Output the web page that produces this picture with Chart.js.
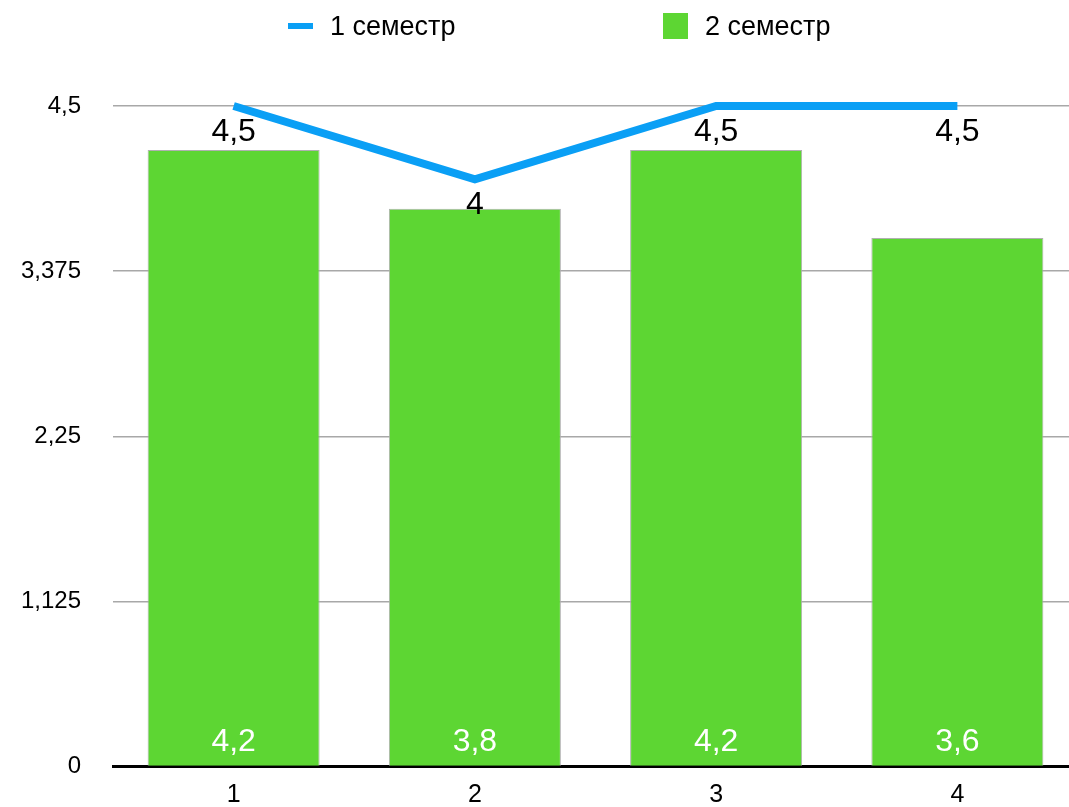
<!DOCTYPE html>
<html>
<head>
<meta charset="utf-8">
<script src="https://cdn.jsdelivr.net/npm/chart.js@4"></script>
<style>
  html, body { margin: 0; padding: 0; background: #fff; overflow: hidden; }
  body { width: 1069px; height: 807px; position: relative; font-family: "Liberation Sans", Arial, sans-serif; }
  #wrap { position: absolute; left: 0; top: 0; width: 1078px; height: 813px; }
  .legend-item { position: absolute; font-size: 27px; color: #000; line-height: 30px; }
  .swatch { position: absolute; }
</style>
</head>
<body>
<div id="wrap"><canvas id="chart" width="1078" height="813"></canvas></div>

<div class="swatch" style="left:288px; top:23px; width:25px; height:6px; background:#0a9ff5;"></div>
<div class="legend-item" style="left:330px; top:11px;">1 семестр</div>
<div class="swatch" style="left:663px; top:13px; width:25px; height:26px; background:#5dd633;"></div>
<div class="legend-item" style="left:705px; top:11px;">2 семестр</div>

<script>
const categories = ["1", "2", "3", "4"];
const semester1 = [4.5, 4, 4.5, 4.5];
const semester2 = [4.2, 3.8, 4.2, 3.6];
const yTicks = [0, 1.125, 2.25, 3.375, 4.5];

const FONT = "'Liberation Sans', Arial, sans-serif";
const fmt = (v) => String(v).replace(".", ",");

// подписи значений: у линии под точкой, у столбцов внизу внутри
const valueLabels = {
    id: "valueLabels",
    afterDatasetsDraw(chart){
        const ctx = chart.ctx;
        ctx.save();
        ctx.font = "32px " + FONT;
        ctx.textAlign = "center";
        ctx.textBaseline = "middle";
        chart.data.datasets.forEach((ds, i) => {
            const meta = chart.getDatasetMeta(i);
            meta.data.forEach((el, j) => {
                const text = fmt(ds.data[j]);
                if(ds.type === "line"){
                    ctx.fillStyle = "#000";
                    ctx.fillText(text, el.x, el.y + 26);
                } else {
                    ctx.fillStyle = "#fff";
                    ctx.fillText(text, el.x, el.base - 24);
                }
            });
        });
        ctx.restore();
    }
};

new Chart(document.getElementById("chart"), {
    data: {
        labels: categories,
        datasets: [{
            type: "line",
            label: "1 семестр",
            data: semester1,
            borderColor: "#0a9ff5",
            borderWidth: 8,
            borderCapStyle: "butt",
            borderJoinStyle: "miter",
            pointRadius: 0,
            tension: 0,
            clip: false,
            order: 0
        }, {
            type: "bar",
            label: "2 семестр",
            data: semester2,
            backgroundColor: "#5dd633",
            borderColor: "#b0b0b0",
            borderWidth: 1,
            categoryPercentage: 1,
            barPercentage: 0.713,
            order: 1
        }]
    },
    options: {
        responsive: false,
        animation: false,
        layout: { padding: { top: 106, right: 0, left: 0, bottom: 0 } },
        plugins: {
            legend: { display: false },
            tooltip: { enabled: false }
        },
        scales: {
            x: {
                grid: { display: false, drawTicks: false },
                border: { display: true, color: "#000", width: 3 },
                ticks: { color: "#000", font: { family: FONT, size: 25 }, padding: 14 },
                afterFit(scale){ scale.height = 41; }
            },
            y: {
                min: 0,
                max: 4.5,
                afterBuildTicks(scale){ scale.ticks = yTicks.map(v => ({ value: v })); },
                grid: { color: "#a8a8a8", lineWidth: 1.5, drawTicks: false },
                border: { display: false },
                ticks: {
                    color: "#000",
                    font: { family: FONT, size: 24 },
                    padding: 32,
                    callback: (v) => fmt(v)
                },
                afterFit(scale){ scale.width = 113; }
            }
        }
    },
    plugins: [valueLabels]
});
</script>
</body>
</html>
